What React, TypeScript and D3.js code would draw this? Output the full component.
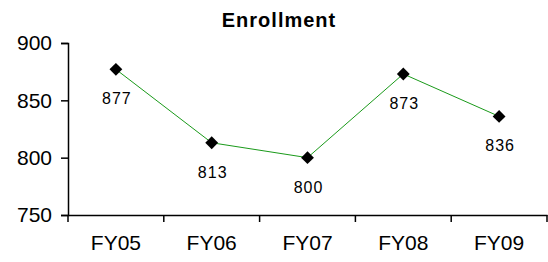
import { useEffect, useRef } from "react";
import * as d3 from "d3";

const years = ["FY05", "FY06", "FY07", "FY08", "FY09"];
const enrollment = [877, 813, 800, 873, 836];
const yTicks = [750, 800, 850, 900];

export default function App() {
  const svgRef = useRef<SVGSVGElement>(null);
  const width = 548;
  const height = 262;

  useEffect(() => {
    if (!svgRef.current) return;
    const margin = { top: 43, right: 1, bottom: 47, left: 68 };
    const svg = d3.select(svgRef.current);
    svg.selectAll("*").remove();

    const x = d3
      .scaleBand<string>()
      .domain(years)
      .range([margin.left, width - margin.right]);
    const y = d3
      .scaleLinear()
      .domain([750, 900])
      .range([height - margin.bottom, margin.top]);

    const font = "'Liberation Sans', Arial, sans-serif";

    // title
    svg
      .append("text")
      .attr("x", 279)
      .attr("y", 27)
      .attr("text-anchor", "middle")
      .attr("font-family", font)
      .attr("font-weight", "bold")
      .attr("font-size", 20)
      .attr("letter-spacing", 1)
      .text("Enrollment");

    // y axis
    const yAxis = svg
      .append("g")
      .attr("transform", `translate(${margin.left},0)`)
      .call(d3.axisLeft(y).tickValues(yTicks).tickSize(7).tickPadding(9));
    yAxis.select(".domain").attr("stroke-width", 1.5);
    yAxis.selectAll(".tick line").attr("stroke-width", 1.5);
    yAxis
      .selectAll(".tick text")
      .attr("font-family", font)
      .attr("font-size", 21)
      .attr("fill", "#000");

    // x axis
    const xAxis = svg
      .append("g")
      .attr("transform", `translate(0,${height - margin.bottom})`)
      .call(d3.axisBottom(x).tickSize(0).tickPadding(20));
    xAxis.select(".domain").attr("stroke-width", 1.5);
    xAxis
      .selectAll(".tick text")
      .attr("font-family", font)
      .attr("font-size", 21)
      .attr("fill", "#000");
    // boundary ticks between categories
    xAxis
      .selectAll(".bound")
      .data(x.domain().map((d) => x(d) as number).concat([x.range()[1]]))
      .enter()
      .append("line")
      .attr("x1", (d) => d)
      .attr("x2", (d) => d)
      .attr("y1", 0)
      .attr("y2", 7)
      .attr("stroke", "#000")
      .attr("stroke-width", 1.5);

    const cx = (i: number) => (x(years[i]) as number) + x.bandwidth() / 2;

    const line = d3
      .line<number>()
      .x((_, i) => cx(i))
      .y((d) => y(d));

    svg
      .append("path")
      .datum(enrollment)
      .attr("fill", "none")
      .attr("stroke", "#1a9a1a")
      .attr("stroke-width", 1)
      .attr("d", line);

    const sym = d3.symbol().type(d3.symbolDiamond2).size(105);
    svg
      .selectAll(".pt")
      .data(enrollment)
      .enter()
      .append("path")
      .attr("transform", (d, i) => `translate(${cx(i)},${y(d)})`)
      .attr("d", sym)
      .attr("fill", "#000");

    svg
      .selectAll(".lbl")
      .data(enrollment)
      .enter()
      .append("text")
      .attr("x", (_, i) => cx(i) + 1)
      .attr("y", (d) => y(d) + 35)
      .attr("text-anchor", "middle")
      .attr("font-family", font)
      .attr("font-size", 16)
      .attr("letter-spacing", 1)
      .text((d) => d);
  }, []);

  return (
    <svg
      ref={svgRef}
      width={width}
      height={height}
      style={{ position: "absolute", left: 0, top: 0, background: "#fff" }}
    />
  );
}
